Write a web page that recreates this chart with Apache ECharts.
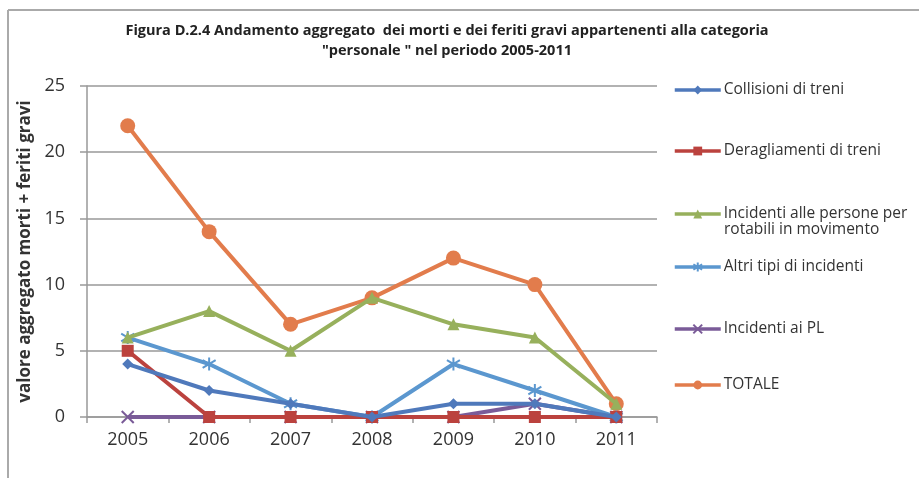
<!DOCTYPE html>
<html><head><meta charset="utf-8">
<script src="https://cdn.jsdelivr.net/npm/echarts@6/dist/echarts.min.js"></script>
<style>html,body{margin:0;padding:0;background:#fff}#c{width:919px;height:478px}</style>
</head><body><div id="c"></div>
<script>
const years = ['2005','2006','2007','2008','2009','2010','2011'];
const collisioni = [4, 2, 1, 0, 1, 1, 0];
const deragliamenti = [5, 0, 0, 0, 0, 0, 0];
const incidentiPersone = [6, 8, 5, 9, 7, 6, 1];
const altriTipi = [6, 4, 1, 0, 4, 2, 0];
const incidentiPL = [0, 0, 0, 0, 0, 1, 0];
const totale = [22, 14, 7, 9, 12, 10, 1];
const yTicks = [0, 5, 10, 15, 20, 25];

const names = ['Collisioni di treni','Deragliamenti di treni','Incidenti alle persone per\nrotabili in movimento','Altri tipi di incidenti','Incidenti ai PL','TOTALE'];
const colors = ['#4f79bb','#bb423e','#97b05c','#5b97cf','#7a5b98','#e27c4c'];
const asterisk = 'path://M5,0L5,10M0,2L10,8M0,8L10,2';
const cross = 'path://M0,0L10,10M0,10L10,0';
const symbols = ['diamond','rect','triangle',asterisk,cross,'circle'];
const sizes = [11,12,12,13,12,15];
const datas = [collisioni, deragliamenti, incidentiPersone, altriTipi, incidentiPL, totale];

const styleFor = i => (i===3||i===4)
  ? {color: 'none', borderColor: colors[i], borderWidth: 2}
  : {color: colors[i], borderColor: colors[i], borderWidth: 0};

const series = names.map((n,i)=>({
  name: n, type: 'line', data: datas[i], symbol: symbols[i], symbolSize: sizes[i],
  lineStyle: {width: 4, color: colors[i]},
  itemStyle: styleFor(i),
  z: 2 + (5 - i)
}));

const FS = 15.5;
const legendCenters = [88, 149, 212, 265, 327, 383];
const legends = names.map((n,i)=>({
  data: [n], left: 668, top: legendCenters[i] - 5 - 8, orient: 'vertical',
  itemWidth: 46, itemHeight: 11, itemGap: 0,
  itemStyle: styleFor(i),
  lineStyle: {width: 3.5, color: colors[i]},
  formatter: name => name.split('\n')[0],
  textStyle: {fontFamily: 'Open Sans', fontSize: FS, color: '#333', lineHeight: 20, padding: [0,0,0,-2]},
  selectedMode: false
}));
const secondLine = names[2].split('\n')[1];

const chart = echarts.init(document.getElementById('c'));
chart.setOption({
  backgroundColor: '#fff',
  animation: false,
  title: {
    text: 'Figura D.2.4 Andamento aggregato  dei morti e dei feriti gravi appartenenti alla categoria\n"personale " nel periodo 2005-2011',
    left: 442, top: 16, textAlign: 'center',
    textStyle: {fontFamily: 'Open Sans', fontWeight: 'bold', fontSize: 14.5, color: '#222', lineHeight: 20}
  },
  legend: legends,
  grid: {left: 87, right: 262, top: 86, bottom: 61},
  xAxis: {
    type: 'category', data: years, boundaryGap: true,
    axisLine: {lineStyle: {color: '#999', width: 1.5}},
    axisTick: {show: true, length: 6, lineStyle: {color: '#999', width: 1.5}},
    axisLabel: {fontFamily: 'Open Sans', fontSize: 18, color: '#333', margin: 14}
  },
  yAxis: {
    type: 'value', min: 0, max: 25, interval: 5,
    name: 'valore aggregato morti + feriti gravi', nameLocation: 'middle', nameGap: 50,
    nameTextStyle: {fontFamily: 'Open Sans', fontWeight: 'bold', fontSize: 17, color: '#333'},
    axisLine: {show: true, lineStyle: {color: '#999', width: 1.5}},
    axisTick: {show: true, length: 7, lineStyle: {color: '#999', width: 1.5}},
    axisLabel: {fontFamily: 'Open Sans', fontSize: 18, color: '#333', margin: 22,
      formatter: v => yTicks.includes(v) ? String(v) : ''},
    splitLine: {lineStyle: {color: '#999', width: 1.5}}
  },
  graphic: [
    {type: 'line', shape: {x1: 8, y1: 10, x2: 8, y2: 478}, style: {stroke: '#aaa', lineWidth: 2}},
    {type: 'line', shape: {x1: 8, y1: 10, x2: 919, y2: 10}, style: {stroke: '#aaa', lineWidth: 2}},
    {type: 'text', left: 724, top: 222, style: {text: secondLine, font: FS + 'px "Open Sans"', fill: '#333'}}
  ],
  series: series
});
</script></body></html>
